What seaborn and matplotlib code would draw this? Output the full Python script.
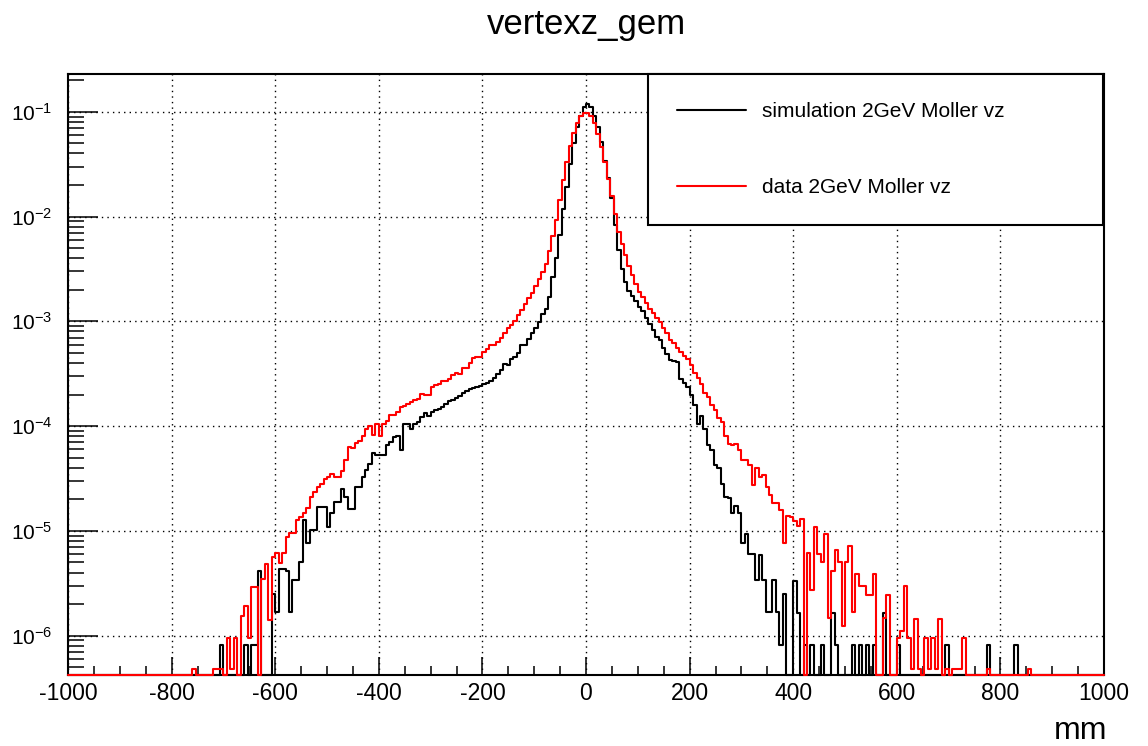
import numpy as np
import pandas as pd
import matplotlib
matplotlib.use("Agg")
import matplotlib.pyplot as plt
import seaborn as sns
from matplotlib.ticker import FixedLocator, MultipleLocator, LogLocator, NullFormatter

# ---------------- data ----------------
x_min, x_max, n_bins = -1000, 1000, 300

sim_vz = (
    [0.0] * 44 +                                   # 0-43
    [8.1e-7] + [0.0] * 6 +                         # 44, 45-50
    [8.1e-7, 0.0, 8.1e-7, 8.1e-7,                  # 51-54
     4.1e-6, 0.0, 0.0, 0.0,                        # 55-58
     2.5e-6, 1.7e-6, 4.3e-6, 4.3e-6, 4.1e-6, 1.7e-6, 3.4e-6, 3.4e-6, 5.0e-6,  # 59-67
     1.26e-5, 7.6e-6, 1.02e-5, 1.02e-5, 1.7e-5, 1.7e-5, 1.7e-5, 1.1e-5, 1.48e-5, 1.9e-5, 1.9e-5, 2.5e-5,  # 68-79
     2.1e-5, 1.62e-5, 1.62e-5, 2.63e-5, 2.63e-5, 3.24e-5, 3.8e-5, 4.37e-5, 5.5e-5, 5.25e-5,   # 80-89
     5.25e-5, 5.25e-5, 6.6e-5, 7.1e-5, 7.9e-5, 8.1e-5, 5.9e-5, 1.05e-4, 1.05e-4, 9.3e-5,     # 90-99
     1.05e-4, 1.1e-4, 1.23e-4, 1.32e-4, 1.26e-4, 1.35e-4, 1.41e-4, 1.45e-4, 1.51e-4, 1.62e-4, # 100-109
     1.74e-4, 1.78e-4, 1.86e-4, 1.95e-4, 2.09e-4, 2.14e-4, 2.24e-4, 2.29e-4, 2.34e-4, 2.4e-4, # 110-119
     2.51e-4, 2.57e-4, 2.69e-4, 2.88e-4, 3.16e-4, 3.47e-4, 3.89e-4, 3.8e-4, 4.37e-4, 4.57e-4, # 120-129
     5.0e-4, 5.9e-4, 6.0e-4, 6.8e-4, 7.8e-4, 8.7e-4, 9.8e-4, 1.17e-3, 1.32e-3, 1.7e-3,       # 130-139
     2.63e-3, 3.98e-3, 6.6e-3, 1.17e-2, 1.9e-2, 3.16e-2, 5.0e-2, 7.1e-2, 9.1e-2, 0.112,      # 140-149
     0.120, 0.110, 9.1e-2, 7.1e-2, 5.1e-2, 3.4e-2, 2.34e-2, 1.51e-2, 8.3e-3, 4.8e-3,         # 150-159
     3.16e-3, 2.4e-3, 1.95e-3, 1.74e-3, 1.55e-3, 1.38e-3, 1.26e-3, 1.07e-3, 9.5e-4, 8.3e-4,  # 160-169
     7.1e-4, 6.6e-4, 5.6e-4, 4.9e-4, 4.27e-4, 4.17e-4, 4.07e-4, 2.82e-4, 2.57e-4, 2.34e-4,   # 170-179
     2.0e-4, 1.58e-4, 1.05e-4, 1.26e-4, 9.3e-5, 6.6e-5, 5.9e-5, 4.27e-5, 3.98e-5, 2.82e-5,   # 180-189
     2.1e-5, 2.04e-5, 1.48e-5, 1.74e-5, 1.48e-5, 7.6e-6, 9.3e-6, 6.0e-6, 6.0e-6, 3.4e-6,     # 190-199
     5.9e-6, 3.4e-6, 1.7e-6, 1.7e-6, 3.4e-6, 1.7e-6, 8.1e-7, 2.5e-6, 0.0, 0.0,              # 200-209
     3.3e-6, 1.66e-6, 0.0, 8.1e-7, 0.0, 8.1e-7, 0.0, 0.0, 8.1e-7, 0.0,                      # 210-219
     0.0, 1.66e-6, 8.1e-7, 0.0, 0.0, 0.0, 0.0, 8.1e-7, 0.0, 8.1e-7,                         # 220-229
     0.0, 8.1e-7, 0.0, 8.1e-7, 0.0, 0.0, 1.66e-6, 0.0, 0.0, 0.0,                            # 230-239
     8.1e-7] + [0.0] * 13 +                                                                  # 240, 241-253
    [8.1e-7] + [0.0] * 11 +                                                                  # 254, 255-265
    [8.1e-7] + [0.0] * 7 +                                                                   # 266, 267-273
    [8.1e-7] + [0.0] * 25                                                                    # 274, 275-299
)

data_vz = (
    [0.0] * 36 +                                   # 0-35
    [4.8e-7] + [0.0] * 5 +                         # 36, 37-41
    [4.8e-7, 4.8e-7, 4.8e-7, 0.0, 9.6e-7, 4.8e-7, 9.6e-7, 0.0,                                 # 42-49
     1.55e-6, 1.9e-6, 9.6e-7, 2.9e-6, 2.9e-6, 0.0, 3.5e-6, 4.8e-6, 1.4e-6, 5.6e-6,           # 50-59
     6.2e-6, 4.9e-6, 6.2e-6, 8.7e-6, 9.5e-6, 9.5e-6, 1.26e-5, 1.35e-5, 1.48e-5, 1.66e-5,     # 60-69
     2.1e-5, 2.34e-5, 2.63e-5, 2.82e-5, 3.16e-5, 3.3e-5, 3.47e-5, 3.3e-5, 3.24e-5, 3.7e-5,   # 70-79
     4.7e-5, 6.3e-5, 6.2e-5, 6.9e-5, 7.2e-5, 8.1e-5, 9.3e-5, 1.0e-4, 8.3e-5, 1.05e-4,       # 80-89
     8.1e-5, 1.05e-4, 1.12e-4, 1.29e-4, 1.29e-4, 1.35e-4, 1.51e-4, 1.55e-4, 1.62e-4, 1.7e-4, # 90-99
     1.78e-4, 1.82e-4, 2.04e-4, 2.0e-4, 2.0e-4, 2.34e-4, 2.45e-4, 2.51e-4, 2.69e-4, 2.69e-4, # 100-109
     2.82e-4, 3.09e-4, 3.24e-4, 3.16e-4, 3.55e-4, 3.55e-4, 3.98e-4, 4.47e-4, 4.57e-4, 4.57e-4, # 110-119
     5.1e-4, 5.5e-4, 5.9e-4, 6.0e-4, 6.3e-4, 6.9e-4, 7.8e-4, 8.7e-4, 9.3e-4, 1.0e-3,        # 120-129
     1.15e-3, 1.29e-3, 1.45e-3, 1.66e-3, 1.86e-3, 2.19e-3, 2.51e-3, 2.95e-3, 3.55e-3, 4.7e-3, # 130-139
     6.5e-3, 9.3e-3, 1.45e-2, 2.24e-2, 3.3e-2, 4.7e-2, 6.3e-2, 7.9e-2, 9.1e-2, 9.8e-2,      # 140-149
     9.8e-2, 9.1e-2, 7.9e-2, 6.2e-2, 4.6e-2, 3.3e-2, 2.29e-2, 1.58e-2, 1.05e-2, 7.2e-3,     # 150-159
     5.5e-3, 4.27e-3, 3.39e-3, 2.75e-3, 2.29e-3, 1.91e-3, 1.7e-3, 1.51e-3, 1.32e-3, 1.2e-3,  # 160-169
     1.07e-3, 9.8e-4, 8.7e-4, 7.8e-4, 6.6e-4, 6.2e-4, 5.6e-4, 5.1e-4, 4.7e-4, 4.37e-4,      # 170-179
     3.8e-4, 3.24e-4, 2.88e-4, 2.51e-4, 2.09e-4, 1.9e-4, 1.58e-4, 1.41e-4, 1.2e-4, 1.1e-4,   # 180-189
     8.1e-5, 6.8e-5, 6.6e-5, 6.8e-5, 5.9e-5, 4.7e-5, 4.7e-5, 4.27e-5, 2.75e-5, 3.98e-5,     # 190-199
     3.24e-5, 3.39e-5, 2.63e-5, 2.19e-5, 1.86e-5, 1.86e-5, 1.58e-5, 7.6e-6, 1.38e-5, 1.35e-5, # 200-209
     1.23e-5, 1.12e-5, 1.29e-5, 0.0, 6.2e-6, 2.7e-6, 1.1e-5, 6.0e-6, 5.0e-6, 9.3e-6,        # 210-219
     1.48e-6, 4.1e-6, 6.5e-6, 5.0e-6, 1.23e-6, 5.0e-6, 7.2e-6, 1.7e-6, 3.9e-6, 3.0e-6,      # 220-229
     3.0e-6, 2.45e-6, 2.45e-6, 3.9e-6, 0.0, 0.0, 1.48e-6, 2.45e-6, 0.0, 0.0,                # 230-239
     9.6e-7, 1.1e-6, 2.95e-6, 9.6e-7, 4.8e-7, 1.44e-6, 4.8e-7, 0.0, 9.6e-7, 4.8e-7,         # 240-249
     9.6e-7, 4.8e-7, 1.44e-6, 0.0, 4.8e-7, 0.0, 4.8e-7, 4.8e-7, 4.8e-7, 9.6e-7] +           # 250-259
    [0.0] * 6 + [4.8e-7] + [0.0] * 11 + [4.8e-7] + [0.0] * 21                                # 260-299
)

series_labels = ["simulation 2GeV Moller vz", "data 2GeV Moller vz"]
series_colors = ["#000000", "#ff0000"]
title_text = "vertexz_gem"
x_label_text = "mm"
x_ticks = [-1000, -800, -600, -400, -200, 0, 200, 400, 600, 800, 1000]
x_tick_labels = ["-1000", "-800", "-600", "-400", "-200", "0", "200", "400", "600", "800", "1000"]
y_ticks = [1e-6, 1e-5, 1e-4, 1e-3, 1e-2, 1e-1]
y_tick_labels = [r"$\mathregular{10^{-6}}$", r"$\mathregular{10^{-5}}$", r"$\mathregular{10^{-4}}$",
                 r"$\mathregular{10^{-3}}$", r"$\mathregular{10^{-2}}$", r"$\mathregular{10^{-1}}$"]
y_lo, y_hi = 4.24e-7, 0.228

# ---------------- style ----------------
sns.set_theme(style="ticks")
plt.rcParams["font.family"] = ["Liberation Sans", "DejaVu Sans"]
plt.rcParams["mathtext.fontset"] = "custom"
plt.rcParams["mathtext.rm"] = "Liberation Sans"
plt.rcParams["mathtext.it"] = "Liberation Sans:italic"
plt.rcParams["mathtext.bf"] = "Liberation Sans:bold"
plt.rcParams["axes.unicode_minus"] = False
for key in ["text.color", "axes.labelcolor", "xtick.color", "ytick.color", "axes.edgecolor"]:
    plt.rcParams[key] = "black"

W, H = 1148, 746
fig = plt.figure(figsize=(W / 100, H / 100), dpi=100)
fig.patch.set_facecolor("white")
ax_l, ax_r, ax_t, ax_b = 68, 1104, 74.3, 674.7
ax = fig.add_axes([ax_l / W, (H - ax_b) / H, (ax_r - ax_l) / W, (ax_b - ax_t) / H])
ax.set_facecolor("white")

bin_w = (x_max - x_min) / n_bins
centers = x_min + bin_w * (np.arange(n_bins) + 0.5)

for vals, col, z in zip([sim_vz, data_vz], series_colors, [2.6, 2.7]):
    # empty bins sit on the frame bottom, as ROOT draws them
    df = pd.DataFrame({"vz": centers, "w": np.clip(np.asarray(vals, dtype=float), y_lo, None)})
    sns.histplot(data=df, x="vz", weights="w", bins=n_bins, binrange=(x_min, x_max),
                 element="step", fill=False, color=col, linewidth=1.5, ax=ax)
    ln = ax.lines[-1]
    ln.set_zorder(z)
    ln.set_clip_on(False)

ax.set_yscale("log")
ax.set_xlim(x_min, x_max)
ax.set_ylim(y_lo, y_hi)
ax.set_xlabel("")
ax.set_ylabel("")

ax.xaxis.set_major_locator(FixedLocator(x_ticks))
ax.set_xticklabels(x_tick_labels)
ax.xaxis.set_minor_locator(MultipleLocator(50))
ax.yaxis.set_major_locator(FixedLocator(y_ticks))
ax.set_yticklabels(y_tick_labels)
ax.yaxis.set_minor_locator(LogLocator(base=10, subs=np.arange(2, 10), numticks=30))
ax.yaxis.set_minor_formatter(NullFormatter())

ax.tick_params(axis="x", which="major", direction="in", length=13, width=1.1,
               labelsize=16.5, pad=5, bottom=True, top=False, colors="black")
ax.tick_params(axis="x", which="minor", direction="in", length=6.2, width=1.1,
               bottom=True, top=False, colors="black")
ax.tick_params(axis="y", which="major", direction="in", length=21.6, width=1.1,
               labelsize=15, pad=11, left=True, right=False, colors="black")
ax.tick_params(axis="y", which="minor", direction="in", length=11.5, width=1.1,
               left=True, right=False, colors="black")

ax.grid(True, which="major", axis="both", color="black", linestyle=(0, (1, 3)), linewidth=1.0)
for sp in ax.spines.values():
    sp.set_visible(True)
    sp.set_color("black")
    sp.set_linewidth(1.5)

# legend in the ROOT TLegend position (top right, touching the frame)
ax_w, ax_h = ax_r - ax_l, ax_b - ax_t
leg_x0, leg_x1, leg_y0, leg_y1 = 648.3, 1103.3, 74.0, 223.3
leg = ax.legend(handles=ax.lines[:2], labels=series_labels, loc="upper left",
                bbox_to_anchor=((leg_x0 - ax_l) / ax_w, (ax_b - leg_y1) / ax_h,
                                (leg_x1 - leg_x0) / ax_w, (leg_y1 - leg_y0) / ax_h),
                mode="expand", borderaxespad=0, fontsize=15, borderpad=1.36,
                handlelength=3.33, handletextpad=0.75, handleheight=0.7, labelspacing=2.72,
                frameon=True, fancybox=False, shadow=False, framealpha=1, edgecolor="black",
                facecolor="white")
leg.get_frame().set_linewidth(1.5)
leg.set_zorder(5)
for t in leg.get_texts():
    t.set_color("black")

fig.text((ax_l + ax_r) / 2 / W, 1 - 34 / H, title_text, ha="center", va="baseline",
         fontsize=25, color="black")
fig.text(1107 / W, 1 - 739 / H, x_label_text, ha="right", va="baseline",
         fontsize=23, color="black")

fig.savefig("out.png", dpi=100)
